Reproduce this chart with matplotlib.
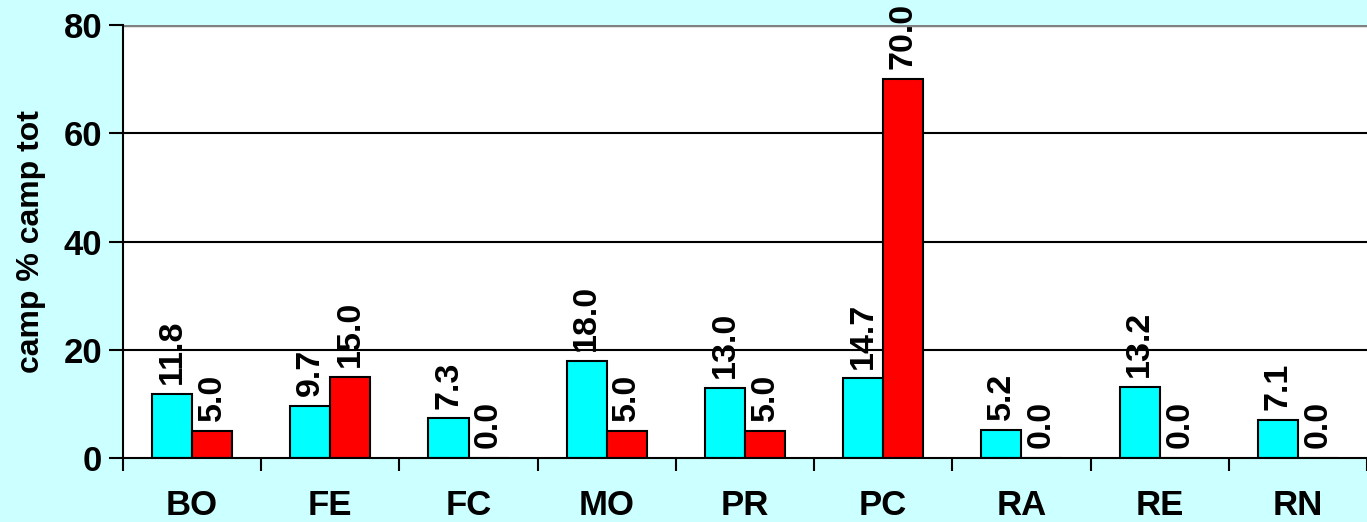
import matplotlib.pyplot as plt
import numpy as np

categories = ["BO", "FE", "FC", "MO", "PR", "PC", "RA", "RE", "RN"]
camp_values = [11.8, 9.7, 7.3, 18.0, 13.0, 14.7, 5.2, 13.2, 7.1]
tot_values = [5.0, 15.0, 0.0, 5.0, 5.0, 70.0, 0.0, 0.0, 0.0]
y_ticks = [0, 20, 40, 60, 80]

plt.rcParams["font.family"] = ["Liberation Sans", "DejaVu Sans"]
plt.rcParams["font.weight"] = "bold"

bg = "#CCFFFF"
fig = plt.figure(figsize=(13.67, 5.22), dpi=100, facecolor=bg)
ax = fig.add_axes([0.090, 0.1226, 0.91, 0.8295])
ax.set_facecolor("white")

x = np.arange(len(categories))
width = 0.29

bars1 = ax.bar(x - width / 2, camp_values, width, color="#00FFFF",
               edgecolor="black", linewidth=1.5, zorder=3)
bars2 = ax.bar(x + width / 2, tot_values, width, color="#FF0000",
               edgecolor="black", linewidth=1.5, zorder=3)

for bars in (bars1, bars2):
    for b in bars:
        h = b.get_height()
        ax.annotate(f"{h:.1f}", (b.get_x() + b.get_width() / 2, h),
                    xytext=(0, 7), textcoords="offset points",
                    rotation=90, ha="center", va="bottom",
                    fontsize=24.5, fontweight="bold", zorder=4,
                    annotation_clip=False)

ax.set_xlim(-0.5, len(categories) - 0.5)
ax.set_ylim(0, 80)

# gridlines
for t in y_ticks[1:-1]:
    ax.axhline(t, color="black", linewidth=1.5, zorder=1)
ax.axhline(80, color="#808080", linewidth=2.5, zorder=1)

ax.set_yticks(y_ticks)
ax.set_yticklabels([str(t) for t in y_ticks], fontsize=25, fontweight="bold")
ax.tick_params(axis="y", length=10, width=1.5, direction="out", pad=5)

# category ticks at boundaries, labels at centres
ax.set_xticks(np.arange(len(categories) + 1) - 0.5)
ax.set_xticklabels([])
ax.set_xticks(x, minor=True)
ax.set_xticklabels(categories, minor=True, fontsize=25, fontweight="bold")
ax.tick_params(axis="x", which="major", length=9, width=1.5, direction="out")
ax.tick_params(axis="x", which="minor", length=0, pad=22)

for side in ("top", "right"):
    ax.spines[side].set_visible(False)
ax.spines["left"].set_linewidth(1.5)
ax.spines["bottom"].set_linewidth(1.5)
ax.spines["bottom"].set_zorder(5)

ax.set_ylabel("camp % camp tot", fontsize=23, fontweight="bold")
ax.yaxis.set_label_coords(-0.062, 0.5)

fig.savefig("out.png", dpi=100, facecolor=bg)
